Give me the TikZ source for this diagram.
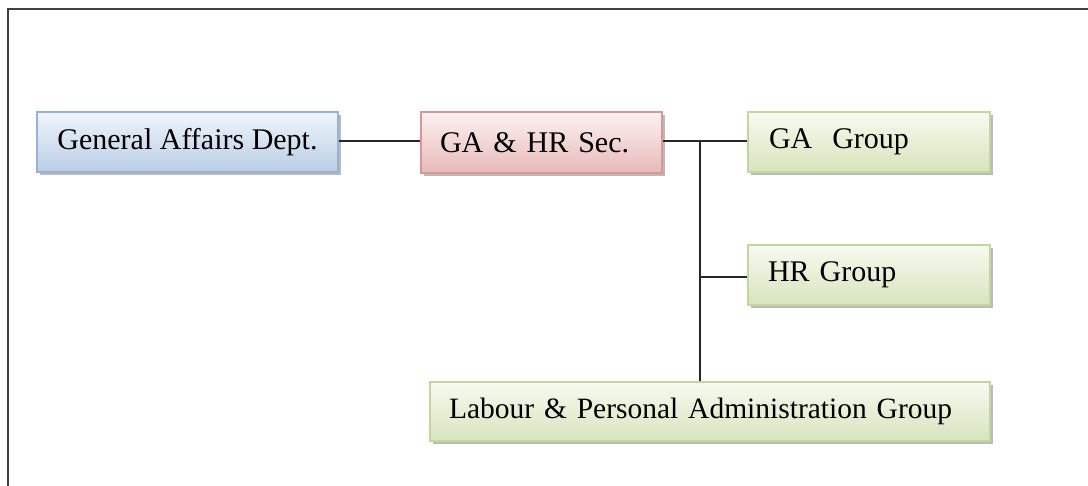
\documentclass[tikz,border=0pt]{standalone}
\usepackage{fontspec}
\setmainfont{Liberation Serif}
\usetikzlibrary{shadows}
\definecolor{blueTop}{HTML}{F0F5FB}
\definecolor{blueBot}{HTML}{B9CDE5}
\definecolor{blueLine}{HTML}{95B3D7}
\definecolor{redTop}{HTML}{FDF2F2}
\definecolor{redBot}{HTML}{E6B9B8}
\definecolor{redLine}{HTML}{D99694}
\definecolor{greenTop}{HTML}{F7FAF0}
\definecolor{greenBot}{HTML}{D7E4BD}
\definecolor{greenLine}{HTML}{C3D69B}
\tikzset{
  box/.style={rectangle, inner ysep=0pt, font=\fontsize{30}{33}\selectfont,
    line width=1.2pt,
    drop shadow={shadow xshift=3pt, shadow yshift=-3.5pt, fill=black!45, opacity=0.6}},
  bluebox/.style={box, draw=blueLine, top color=blueTop, bottom color=blueBot},
  redbox/.style={box, draw=redLine, top color=redTop, bottom color=redBot},
  greenbox/.style={box, draw=greenLine, top color=greenTop, bottom color=greenBot},
  conn/.style={line width=1.4pt, black!85}
}
\begin{document}
\begin{tikzpicture}[x=1pt,y=-1pt]
\useasboundingbox (0,0) rectangle (1088,486);
\fill[white] (0,0) rectangle (1088,486);
\draw[line width=2.2pt, black!75] (8,486) -- (8,9) -- (1088,9);

\node[bluebox, minimum width=301pt, minimum height=60pt, align=center] (gen) at (187.5,142) {General Affairs Dept.};
\node[redbox, minimum height=61pt, text width=203pt, inner xsep=19pt, align=left] (sec) at (541.5,142.5) {GA \& HR Sec.};
\node[greenbox, minimum height=60pt, text width=200pt, inner xsep=21pt, align=left] (ga) at (869,142) {GA\ \ Group};
\node[greenbox, minimum height=60pt, text width=202pt, inner xsep=20pt, align=left] (hr) at (869,275) {HR Group};
\node[greenbox, minimum height=59pt, text width=522pt, inner xsep=19pt, align=left, font=\fontsize{29.5}{32}\selectfont] (lab) at (710,411.5) {Labour \& Personal Administration Group};

\coordinate (j) at (700,141);
\draw[conn] (gen.east |- 0,141) -- (sec.west |- 0,141);
\draw[conn] (sec.east |- 0,141) -- (ga.west |- 0,141);
\draw[conn] (j) -- (j |- lab.north);
\draw[conn] (j |- 0,277) -- (hr.west |- 0,277);
\end{tikzpicture}
\end{document}
